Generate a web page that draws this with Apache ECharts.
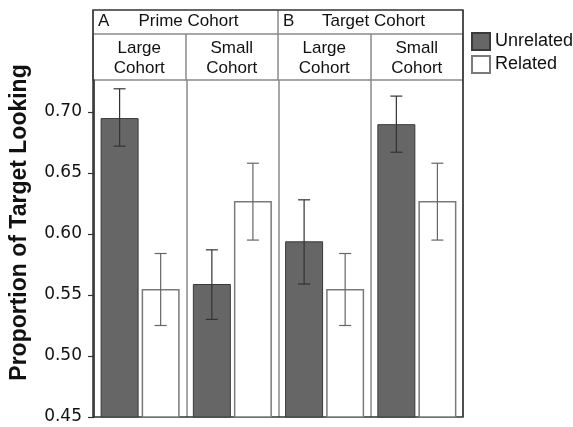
<!DOCTYPE html>
<html>
<head>
<meta charset="utf-8">
<script src="https://cdn.jsdelivr.net/npm/echarts@6/dist/echarts.min.js"></script>
<style>
html, body { margin: 0; background: #fff; }
#chart { width: 573px; height: 427px; }
</style>
</head>
<body>
<div id="chart"></div>
<script>
// conditions, left to right
const conditions = ['Prime Large', 'Prime Small', 'Target Large', 'Target Small'];
const subLabels = ['Large\nCohort', 'Small\nCohort', 'Large\nCohort', 'Small\nCohort'];
const panelTitles = ['Prime Cohort', 'Target Cohort'];
const panelLetters = ['A', 'B'];

const unrelated = [0.695, 0.559, 0.594, 0.690];
const unrelatedLow = [0.672, 0.530, 0.559, 0.667];
const unrelatedHigh = [0.719, 0.587, 0.628, 0.713];

const related = [0.555, 0.627, 0.555, 0.627];
const relatedLow = [0.525, 0.595, 0.525, 0.595];
const relatedHigh = [0.584, 0.658, 0.584, 0.658];

const yTicks = [0.45, 0.50, 0.55, 0.60, 0.65, 0.70];

const barWidth = 38;
const barGap = 0.08;
const divider = {show: true, lineStyle: {color: '#8a8a8a', width: 1.5}};
const sans = '"Liberation Sans", Arial, sans-serif';
const wide = '"DejaVu Sans", sans-serif';

function errorBars(shift, color) {
	return function (params, api) {
		const i = api.value(0);
		const lo = api.coord([i, api.value(1)]);
		const hi = api.coord([i, api.value(2)]);
		const x = lo[0] + shift;
		const cap = 6;
		const style = {stroke: color, lineWidth: 1.2, fill: null};
		return {
			type: 'group',
			children: [
				{type: 'line', shape: {x1: x, y1: hi[1], x2: x, y2: lo[1]}, style: style},
				{type: 'line', shape: {x1: x - cap, y1: hi[1], x2: x + cap, y2: hi[1]}, style: style},
				{type: 'line', shape: {x1: x - cap, y1: lo[1], x2: x + cap, y2: lo[1]}, style: style},
			]
		};
	};
}

const shift = (barWidth + barWidth * barGap) / 2;

const chart = echarts.init(document.getElementById('chart'), null, {renderer: 'canvas'});
chart.setOption({
	animation: false,
	textStyle: {fontFamily: sans},
	grid: [
		{left: 93, right: 110, top: 80, bottom: 10},
		{left: 93, right: 110, top: 34, height: 46, show: true, borderColor: '#8a8a8a', borderWidth: 1.5},
		{left: 93, right: 110, top: 10, height: 24},
		{left: 93, right: 110, top: 10, bottom: 10, show: true, borderColor: '#333', borderWidth: 1.5, z: 1},
	],
	legend: {
		data: ['Unrelated', 'Related'],
		orient: 'vertical',
		left: 471,
		top: 32,
		padding: 0,
		icon: 'rect',
		itemWidth: 18,
		itemHeight: 17,
		itemGap: 4,
		textStyle: {fontSize: 18, fontFamily: sans, color: '#111'},
	},
	xAxis: [
		{
			gridIndex: 0, type: 'category', data: conditions,
			axisLine: {show: false}, axisTick: {show: false}, axisLabel: {show: false},
			splitLine: divider,
		},
		{
			gridIndex: 1, type: 'category', data: subLabels, position: 'top',
			axisLine: {show: false}, axisTick: {show: false},
			axisLabel: {inside: true, margin: 4, fontSize: 17, lineHeight: 20, color: '#111'},
			splitLine: divider,
		},
		{
			gridIndex: 2, type: 'value', min: 0, max: 2, interval: 1, position: 'top',
			axisLine: {show: false}, axisTick: {show: false},
			axisLabel: {
				inside: true, margin: 3, fontSize: 17, color: '#111', align: 'left',
				padding: [0, 0, 0, 5],
				formatter: v => panelLetters[v] || '',
			},
			splitLine: divider,
		},
		{
			gridIndex: 2, type: 'category', data: panelTitles, position: 'top',
			axisLine: {show: false}, axisTick: {show: false},
			axisLabel: {inside: true, margin: 3, fontSize: 17, color: '#111', padding: [0, 0, 0, 6]},
			splitLine: {show: false},
		},
		{gridIndex: 3, type: 'value', show: false},
	],
	yAxis: [
		{
			gridIndex: 0, type: 'value', min: 0.45, max: 0.7262, interval: 0.05,
			axisLine: {show: true, lineStyle: {color: '#333', width: 1.5}},
			axisTick: {show: true, customValues: yTicks, length: 6, lineStyle: {color: '#333', width: 1.2}},
			axisLabel: {
				customValues: yTicks, margin: 12, fontSize: 17, fontFamily: wide, color: '#111',
				formatter: v => v.toFixed(2),
			},
			splitLine: {show: false},
			name: 'Proportion of Target Looking',
			nameLocation: 'middle',
			nameGap: 63,
			nameTextStyle: {fontSize: 23, fontWeight: 'bold', color: '#111', padding: [0, 0, 0, 52]},
		},
		{gridIndex: 1, type: 'value', show: false},
		{gridIndex: 2, type: 'value', show: false},
		{gridIndex: 3, type: 'value', show: false},
	],
	series: [
		{
			name: 'Unrelated', type: 'bar', xAxisIndex: 0, yAxisIndex: 0,
			data: unrelated, barWidth: barWidth, barGap: (barGap * 100) + '%',
			itemStyle: {color: '#666666', borderColor: '#3a3a3a', borderWidth: 1},
		},
		{
			name: 'Related', type: 'bar', xAxisIndex: 0, yAxisIndex: 0,
			data: related, barWidth: barWidth,
			itemStyle: {color: '#ffffff', borderColor: '#7a7a7a', borderWidth: 1.5},
		},
		{
			name: 'Unrelated error', type: 'custom', xAxisIndex: 0, yAxisIndex: 0, z: 3,
			data: conditions.map((c, i) => [i, unrelatedLow[i], unrelatedHigh[i]]),
			encode: {x: 0, y: [1, 2]},
			renderItem: errorBars(-shift, '#333'),
		},
		{
			name: 'Related error', type: 'custom', xAxisIndex: 0, yAxisIndex: 0, z: 3,
			data: conditions.map((c, i) => [i, relatedLow[i], relatedHigh[i]]),
			encode: {x: 0, y: [1, 2]},
			renderItem: errorBars(shift, '#666'),
		},
	],
});
</script>
</body>
</html>
